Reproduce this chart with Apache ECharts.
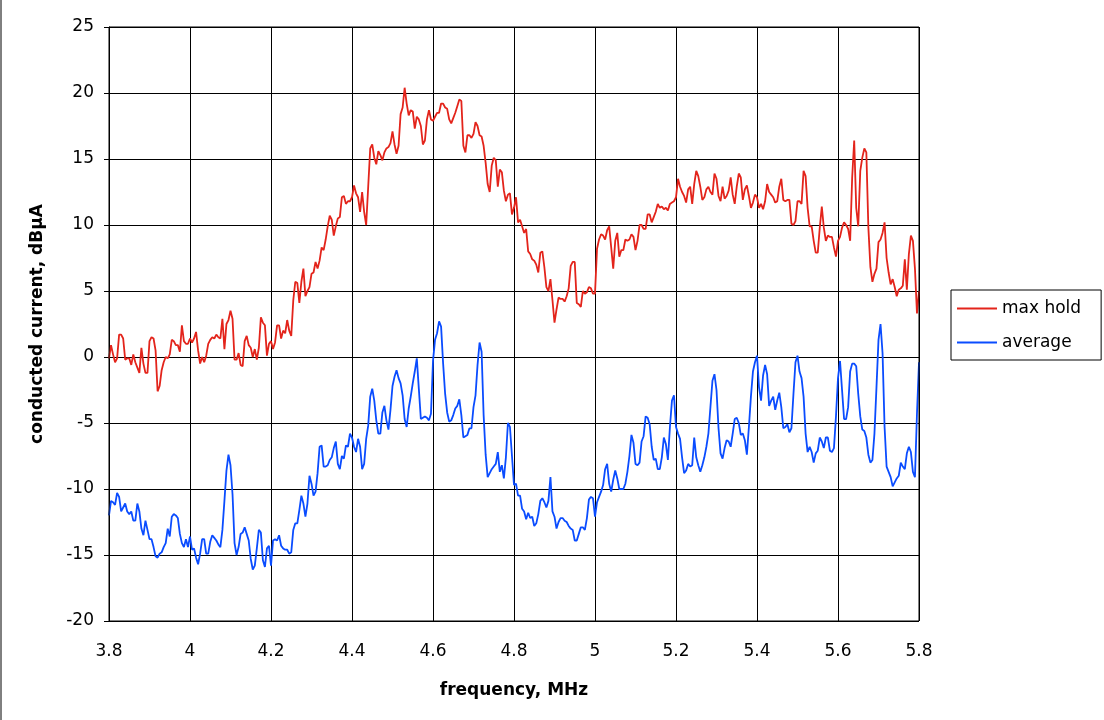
<!DOCTYPE html>
<html>
<head>
<meta charset="utf-8">
<title>conducted current</title>
<script src="https://cdn.jsdelivr.net/npm/echarts@6/dist/echarts.min.js"></script>
<style>
  html, body { margin: 0; padding: 0; background: #fff; }
  #chart { width: 1104px; height: 720px; }
</style>
</head>
<body>
<div id="chart"></div>
<script>
// sweep grid: 3.8 .. 5.8 MHz, one reading every 5 kHz
const freqStart = 3.8
const freqStep = 0.005

const xTicks = ['3.8', '4', '4.2', '4.4', '4.6', '4.8', '5', '5.2', '5.4', '5.6', '5.8']
const yTicks = [-20, -15, -10, -5, 0, 5, 10, 15, 20, 25]
const seriesNames = ['max hold', 'average']

const maxHold = [
  -0.1, 0.9, 0.2, -0.4, -0.1, 1.7, 1.7, 1.4, -0.2, -0.1,
  -0.1, -0.6, 0.2, -0.4, -0.8, -1.2, 0.7, -0.5, -1.2, -1.2,
  1.2, 1.5, 1.4, 0.5, -2.6, -2.2, -1.0, -0.4, 0.0, -0.1,
  0.2, 1.3, 1.2, 0.9, 0.9, 0.4, 2.4, 1.2, 1.0, 1.0,
  1.4, 1.1, 1.4, 1.9, 0.5, -0.5, 0.0, -0.4, 0.1, 1.0,
  1.3, 1.5, 1.4, 1.7, 1.5, 1.4, 2.9, 0.6, 2.5, 2.8,
  3.5, 2.9, -0.2, -0.2, 0.3, -0.6, -0.7, 1.2, 1.6, 0.9,
  0.7, 0.0, 0.6, -0.2, 0.7, 3.0, 2.6, 2.4, 0.1, 1.0,
  1.2, 0.6, 1.1, 2.4, 2.4, 1.4, 2.0, 1.8, 2.8, 2.0,
  1.6, 4.3, 5.7, 5.6, 4.1, 5.7, 6.7, 4.6, 5.0, 5.3,
  6.3, 6.4, 7.2, 6.7, 7.3, 8.3, 8.1, 8.9, 9.9, 10.7,
  10.4, 9.2, 9.9, 10.5, 10.6, 12.1, 12.2, 11.6, 11.8, 11.8,
  12.1, 13.0, 12.4, 12.1, 11.0, 12.5, 11.0, 10.0, 12.9, 15.8,
  16.1, 15.1, 14.6, 15.6, 15.3, 14.9, 15.5, 15.8, 15.9, 16.2,
  17.1, 16.1, 15.4, 16.0, 18.4, 18.9, 20.4, 19.2, 18.3, 18.7,
  18.6, 17.3, 18.2, 18.0, 17.5, 16.1, 16.4, 18.0, 18.7, 18.0,
  17.9, 18.2, 18.5, 18.5, 19.2, 19.2, 18.9, 18.8, 18.0, 17.7,
  18.1, 18.5, 19.0, 19.5, 19.4, 16.0, 15.5, 16.8, 16.8, 16.6,
  16.9, 17.8, 17.5, 16.8, 16.7, 16.0, 14.7, 13.1, 12.5, 14.5,
  15.1, 14.9, 12.9, 14.2, 14.0, 12.6, 11.8, 12.3, 12.4, 10.8,
  11.3, 12.1, 10.2, 10.4, 9.9, 9.4, 9.7, 8.0, 7.8, 7.4,
  7.3, 7.0, 6.4, 7.9, 8.0, 6.8, 5.3, 5.0, 5.9, 4.3,
  2.6, 3.6, 4.5, 4.4, 4.4, 4.2, 4.6, 5.2, 6.9, 7.2,
  7.2, 4.1, 4.0, 3.8, 5.0, 4.8, 4.9, 5.3, 5.2, 4.8,
  4.8, 8.2, 8.9, 9.3, 9.2, 8.9, 9.6, 9.9, 8.3, 6.7,
  8.8, 9.4, 7.6, 8.1, 8.1, 8.9, 8.8, 8.9, 9.3, 9.1,
  8.1, 8.8, 10.0, 10.0, 9.7, 9.7, 10.8, 10.8, 10.2, 10.6,
  11.0, 11.6, 11.3, 11.4, 11.2, 11.3, 11.1, 11.6, 11.7, 11.8,
  12.1, 13.5, 12.9, 12.5, 12.2, 11.7, 12.7, 12.9, 11.6, 13.1,
  14.1, 13.7, 12.9, 11.9, 12.1, 12.7, 12.9, 12.5, 12.3, 13.9,
  13.5, 12.2, 11.8, 12.9, 12.0, 12.2, 12.6, 13.6, 12.3, 11.6,
  12.9, 13.9, 13.6, 11.9, 12.7, 13.0, 12.2, 11.3, 11.7, 12.3,
  12.1, 11.3, 11.6, 11.2, 11.8, 13.1, 12.5, 12.3, 12.1, 11.7,
  11.8, 12.9, 13.5, 11.9, 11.8, 11.9, 11.9, 10.1, 10.0, 10.3,
  11.8, 11.8, 11.6, 14.1, 13.7, 11.3, 9.9, 9.9, 8.8, 7.9,
  7.9, 9.8, 11.4, 9.8, 8.8, 9.2, 9.1, 9.1, 8.3, 7.6,
  8.8, 9.1, 9.8, 10.2, 10.0, 9.7, 8.8, 13.6, 16.4, 11.3,
  9.9, 14.1, 15.1, 15.8, 15.5, 9.8, 6.8, 5.7, 6.3, 6.7,
  8.7, 8.9, 9.4, 10.2, 7.5, 6.4, 5.5, 5.9, 5.3, 4.6,
  5.1, 5.2, 5.4, 7.4, 5.1, 7.8, 9.2, 8.8, 6.7, 3.3,
  5.0
]

const average = [
  -12.0, -10.9, -11.0, -11.2, -10.3, -10.6, -11.7, -11.4, -11.1, -11.7,
  -11.9, -11.7, -12.4, -12.4, -11.1, -11.7, -13.0, -13.5, -12.4, -13.1,
  -13.8, -13.8, -14.4, -15.1, -15.2, -14.9, -14.8, -14.4, -14.1, -13.0,
  -13.6, -12.1, -11.9, -12.0, -12.2, -13.4, -14.1, -14.4, -13.8, -14.4,
  -13.6, -14.6, -14.5, -15.2, -15.7, -14.9, -13.8, -13.8, -14.9, -14.9,
  -14.0, -13.5, -13.7, -13.9, -14.2, -14.4, -13.1, -10.9, -8.6, -7.4,
  -8.2, -10.4, -14.1, -15.0, -14.4, -13.4, -13.3, -12.9, -13.4, -13.9,
  -15.3, -16.1, -15.8, -14.5, -13.1, -13.3, -15.4, -15.9, -14.5, -14.3,
  -15.8, -13.9, -13.8, -13.9, -13.5, -14.3, -14.5, -14.6, -14.6, -14.9,
  -14.8, -13.1, -12.6, -12.6, -11.6, -10.5, -11.1, -12.1, -11.1, -9.0,
  -9.6, -10.5, -10.2, -8.8, -6.8, -6.7, -8.3, -8.3, -8.2, -7.8,
  -7.6, -6.9, -6.4, -8.1, -8.5, -7.5, -7.7, -6.7, -6.8, -5.8,
  -6.1, -6.8, -7.2, -6.2, -6.8, -8.5, -8.1, -6.2, -5.2, -3.0,
  -2.4, -3.3, -4.8, -5.8, -5.8, -4.2, -3.7, -4.8, -5.5, -4.0,
  -2.2, -1.5, -1.0, -1.6, -2.0, -2.9, -4.7, -5.3, -3.9, -3.0,
  -2.0, -1.1, -0.1, -2.4, -4.7, -4.6, -4.5, -4.6, -4.8, -4.3,
  -0.3, 1.3, 1.8, 2.7, 2.3, -0.5, -2.8, -4.2, -4.9, -4.8,
  -4.4, -3.9, -3.7, -3.2, -4.4, -6.1, -6.0, -5.9, -5.4, -5.4,
  -3.8, -2.9, -0.6, 1.1, 0.4, -4.4, -7.4, -9.1, -8.8, -8.5,
  -8.3, -8.1, -7.2, -8.7, -8.2, -9.2, -7.6, -5.0, -5.3, -7.5,
  -9.7, -9.6, -10.5, -10.5, -11.5, -11.7, -12.3, -11.8, -12.2, -12.1,
  -12.8, -12.6, -11.9, -10.9, -10.7, -11.0, -11.4, -10.9, -9.1, -11.7,
  -12.1, -13.0, -12.5, -12.2, -12.2, -12.4, -12.5, -12.8, -13.0, -13.1,
  -13.9, -13.9, -13.4, -12.9, -12.9, -13.1, -12.2, -10.8, -10.6, -10.7,
  -12.1, -11.0, -10.6, -10.2, -9.7, -8.5, -8.1, -9.6, -10.2, -9.3,
  -8.6, -9.2, -10.0, -10.0, -10.0, -9.6, -8.7, -7.5, -5.9, -6.5,
  -8.1, -8.2, -8.0, -6.4, -6.0, -4.5, -4.6, -5.1, -6.8, -7.8,
  -7.7, -8.5, -8.5, -7.6, -6.1, -6.6, -7.8, -5.3, -3.3, -2.9,
  -5.3, -5.8, -6.2, -7.6, -8.8, -8.6, -8.1, -8.3, -8.2, -6.1,
  -7.6, -8.2, -8.7, -8.2, -7.6, -6.8, -5.8, -3.8, -1.8, -1.3,
  -2.5, -5.4, -7.3, -7.7, -6.9, -6.3, -6.4, -6.8, -5.8, -4.7,
  -4.6, -5.0, -5.9, -5.8, -6.3, -7.4, -5.3, -3.0, -1.1, -0.4,
  0.1, -2.3, -3.3, -1.4, -0.6, -1.3, -3.7, -3.3, -3.0, -4.0,
  -3.3, -2.7, -3.8, -5.4, -5.3, -5.1, -5.7, -5.4, -2.8, -0.4,
  0.1, -1.1, -1.6, -3.0, -5.8, -7.2, -6.8, -7.2, -8.0, -7.3,
  -7.1, -6.1, -6.4, -6.9, -6.1, -6.1, -7.1, -7.2, -6.9, -4.5,
  -1.6, -0.3, -2.5, -4.7, -4.7, -3.8, -1.1, -0.5, -0.5, -0.7,
  -2.8, -4.5, -5.5, -5.6, -6.1, -7.4, -8.0, -7.8, -5.8, -2.3,
  1.3, 2.5, 0.3, -5.3, -8.3, -8.7, -9.1, -9.8, -9.5, -9.2,
  -9.0, -8.0, -8.3, -8.5, -7.3, -6.8, -7.2, -8.7, -9.1, -4.3,
  -0.4
]

const font = 'Verdana, "DejaVu Sans", sans-serif'

const toPairs = (values) => values.map((v, i) => [+(freqStart + i * freqStep).toFixed(3), v])

const chart = echarts.init(document.getElementById('chart'))
chart.setOption({
  animation: false,
  backgroundColor: '#fff',
  textStyle: { fontFamily: font },
  grid: { left: 109, right: 185, top: 27, bottom: 99 },
  legend: {
    orient: 'vertical',
    left: 951,
    top: 290,
    padding: [10, 20, 9, 6],
    itemGap: 17,
    itemWidth: 40,
    itemHeight: 2,
    icon: 'rect',
    borderColor: '#000',
    borderWidth: 1,
    borderRadius: 0,
    data: seriesNames,
    textStyle: { fontFamily: font, fontSize: 17, color: '#000' }
  },
  xAxis: {
    type: 'value',
    min: +xTicks[0],
    max: +xTicks[xTicks.length - 1],
    interval: 0.2,
    name: 'frequency, MHz',
    nameLocation: 'middle',
    nameGap: 61,
    nameTextStyle: { fontFamily: font, fontSize: 17, fontWeight: 'bold', color: '#000' },
    axisLine: { lineStyle: { color: '#000', width: 1 } },
    axisTick: { show: true, length: 5, lineStyle: { color: '#000' } },
    axisLabel: {
      margin: 22,
      fontFamily: font,
      fontSize: 17,
      color: '#000',
      formatter: (v) => xTicks.find((t) => Math.abs(+t - v) < 1e-6) || ''
    },
    splitLine: { show: true, lineStyle: { color: '#000', width: 1 } }
  },
  yAxis: {
    type: 'value',
    min: yTicks[0],
    max: yTicks[yTicks.length - 1],
    interval: 5,
    name: 'conducted current, dBµA',
    nameLocation: 'middle',
    nameGap: 63,
    nameTextStyle: { fontFamily: font, fontSize: 17, fontWeight: 'bold', color: '#000' },
    axisLine: { show: true, lineStyle: { color: '#000', width: 1 } },
    axisTick: { show: true, length: 5, lineStyle: { color: '#000' } },
    axisLabel: { margin: 15, fontFamily: font, fontSize: 17, color: '#000' },
    splitLine: { show: true, lineStyle: { color: '#000', width: 1 } }
  },
  graphic: [
    {
      type: 'line',
      shape: { x1: 1, y1: 0, x2: 1, y2: 720 },
      style: { stroke: '#000', lineWidth: 1 }
    },
    {
      type: 'rect',
      shape: { x: 109, y: 27, width: 810, height: 594 },
      style: { fill: 'none', stroke: '#000', lineWidth: 1 },
      z: 10
    }
  ],
  series: [
    {
      name: seriesNames[0],
      type: 'line',
      data: toPairs(maxHold),
      symbol: 'none',
      lineStyle: { color: '#e3241b', width: 1.8 },
      itemStyle: { color: '#e3241b' }
    },
    {
      name: seriesNames[1],
      type: 'line',
      data: toPairs(average),
      symbol: 'none',
      lineStyle: { color: '#0a4cff', width: 1.8 },
      itemStyle: { color: '#0a4cff' }
    }
  ]
})
</script>
</body>
</html>
